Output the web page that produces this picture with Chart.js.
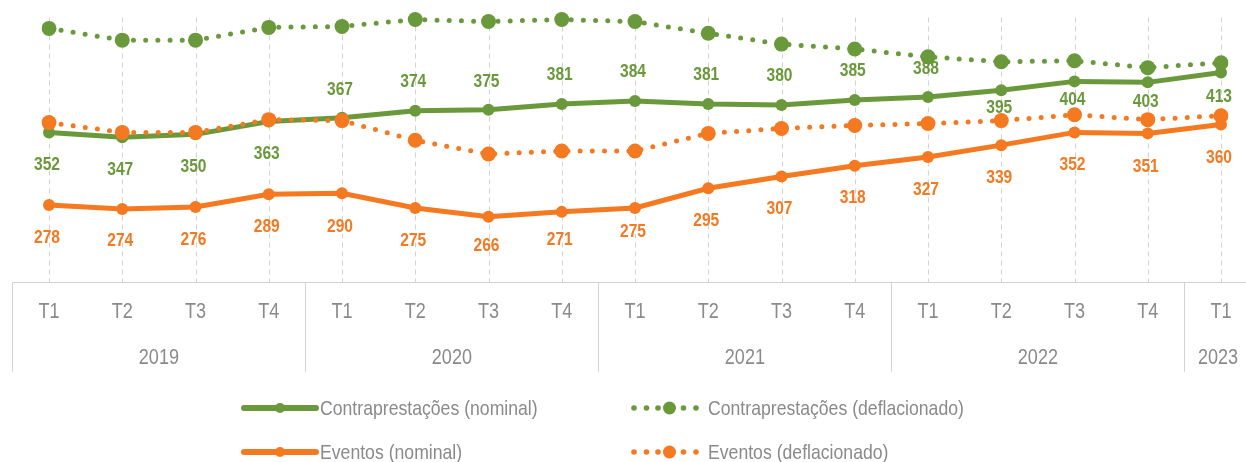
<!DOCTYPE html>
<html>
<head>
<meta charset="utf-8">
<script src="https://cdn.jsdelivr.net/npm/chart.js@4/dist/chart.umd.min.js"></script>
<style>
  html, body { margin: 0; padding: 0; background: #fff; }
  #wrap { width: 1246px; height: 462px; position: relative; }
</style>
</head>
<body>
<div id="wrap"><canvas id="chart"></canvas></div>
<script>
// --- data ---
const quarters = ["T1", "T2", "T3", "T4", "T1", "T2", "T3", "T4", "T1", "T2", "T3", "T4", "T1", "T2", "T3", "T4", "T1"];
const years = ["2019", "2019", "2019", "2019", "2020", "2020", "2020", "2020", "2021", "2021", "2021", "2021", "2022", "2022", "2022", "2022", "2023"];

const contraNominal = [352, 347, 350, 363, 367, 374, 375, 381, 384, 381, 380, 385, 388, 395, 404, 403, 413];
const contraDeflac = [458, 446, 446, 459, 460, 467, 465, 467, 465, 453, 442, 437, 429, 424, 425, 418, 423];
const eventosNominal = [278, 274, 276, 289, 290, 275, 266, 271, 275, 295, 307, 318, 327, 339, 352, 351, 360];
const eventosDeflac = [362, 352, 352, 365, 364, 344, 330, 333, 333, 351, 356, 359, 361, 364, 370, 365, 369];

const seriesNames = ["Contraprestações (nominal)", "Contraprestações (deflacionado)", "Eventos (nominal)", "Eventos (deflacionado)"];

// --- style ---
const GREEN = "rgb(106,153,59)";
const ORANGE = "rgb(244,121,32)";
const GREY_TXT = "#8a8a8a";
const GREY_LINE = "#d2d2d2";
const FONT = '"Liberation Sans", Arial, sans-serif';
const SQUEEZE = 0.82;   // no narrow face installed: squeeze Liberation Sans instead

// vertical offset of each value label from its point (negative = above)
const contraLabelDy = [32, 32, 32, 32, -28, -29, -28, -29, -29, -29, -29, -29, -28, 18, 18, 19, 24];
const eventosLabelDy = [33, 32, 33, 33, 34, 33, 29, 28, 24, 32, 32, 32, 33, 33, 32, 33, 33];

const solid = (label, data, color) => ({
  label, data,
  borderColor: color, backgroundColor: color,
  borderWidth: 5, pointRadius: 6, pointBorderWidth: 0,
  pointBackgroundColor: color, tension: 0, fill: false,
});
const dotted = (label, data, color) => ({
  label, data,
  borderColor: color, backgroundColor: color,
  borderWidth: 5, borderDash: [0, 12.2], borderCapStyle: "round",
  pointRadius: 7.5, pointBorderWidth: 0,
  pointBackgroundColor: color, tension: 0, fill: false,
});

// index 0 is drawn on top
const datasets = [
  dotted(seriesNames[3], eventosDeflac, ORANGE),
  solid(seriesNames[2], eventosNominal, ORANGE),
  dotted(seriesNames[1], contraDeflac, GREEN),
  solid(seriesNames[0], contraNominal, GREEN),
];

// text drawn horizontally condensed
function narrowText(ctx, text, x, y, sx) {
  ctx.save();
  ctx.translate(x, y);
  ctx.scale(sx || SQUEEZE, 1);
  ctx.fillText(text, 0, 0);
  ctx.restore();
}

// dashed vertical grid lines behind the lines
const gridPlugin = {
  id: "grid",
  beforeDatasetsDraw(chart) {
    const { ctx, chartArea, scales } = chart;
    ctx.save();
    ctx.strokeStyle = GREY_LINE;
    ctx.lineWidth = 1;
    ctx.setLineDash([5, 4]);
    quarters.forEach((q, i) => {
      const x = Math.round(scales.x.getPixelForValue(i)) + 0.5;
      ctx.beginPath();
      ctx.moveTo(x, chartArea.top + 10);
      ctx.lineTo(x, chartArea.bottom);
      ctx.stroke();
    });
    ctx.restore();
  },
};

// value labels, grouped x axis box and legend
const decoPlugin = {
  id: "deco",
  afterDatasetsDraw(chart) {
    const { ctx, scales } = chart;
    ctx.save();
    ctx.font = "bold 19px " + FONT;
    ctx.textAlign = "center";
    ctx.textBaseline = "middle";
    const drawLabels = (values, dys, color) => {
      ctx.fillStyle = color;
      values.forEach((v, i) => {
        const x = scales.x.getPixelForValue(i) - 2;
        const y = scales.y.getPixelForValue(v) + dys[i];
        narrowText(ctx, String(v), x, y);
      });
    };
    drawLabels(contraNominal, contraLabelDy, GREEN);
    drawLabels(eventosNominal, eventosLabelDy, ORANGE);
    ctx.restore();
  },
  afterDraw(chart) {
    const { ctx, chartArea, scales } = chart;
    const top = chartArea.bottom - 0.5;
    const bottom = 372;
    const left = 12.5;
    ctx.save();
    ctx.strokeStyle = GREY_LINE;
    ctx.lineWidth = 1;
    ctx.beginPath();
    ctx.moveTo(left, bottom);
    ctx.lineTo(left, top);
    ctx.lineTo(chart.width, top);
    ctx.stroke();

    ctx.fillStyle = GREY_TXT;
    ctx.font = "22px " + FONT;
    ctx.textAlign = "center";
    ctx.textBaseline = "middle";
    quarters.forEach((q, i) => narrowText(ctx, q, scales.x.getPixelForValue(i), 312));

    // year groups
    const groups = [];
    years.forEach((y, i) => {
      const g = groups[groups.length - 1];
      if (g && g.year === y) g.last = i;
      else groups.push({ year: y, first: i, last: i });
    });
    groups.forEach((g, k) => {
      const x0 = scales.x.getPixelForValue(g.first);
      const x1 = scales.x.getPixelForValue(g.last);
      narrowText(ctx, g.year, (x0 + x1) / 2 - (g.first === g.last ? 3 : 0), 358);
      if (k > 0) {
        const sep = Math.round((x0 + scales.x.getPixelForValue(g.first - 1)) / 2) + 0.5;
        ctx.beginPath();
        ctx.moveTo(sep, top);
        ctx.lineTo(sep, bottom);
        ctx.stroke();
      }
    });

    // legend
    const rows = [408, 452];
    ctx.font = "21px " + FONT;
    ctx.textAlign = "left";
    const solidKey = (x, y, color, text) => {
      ctx.strokeStyle = color;
      ctx.fillStyle = color;
      ctx.lineWidth = 6;
      ctx.lineCap = "round";
      ctx.beginPath();
      ctx.moveTo(x, y);
      ctx.lineTo(x + 72, y);
      ctx.stroke();
      ctx.beginPath();
      ctx.arc(x + 36, y, 5, 0, Math.PI * 2);
      ctx.fill();
      ctx.fillStyle = GREY_TXT;
      narrowText(ctx, text, x + 76, y + 1, 0.84);
    };
    const dottedKey = (x, y, color, text) => {
      ctx.fillStyle = color;
      [0, 12.5, 24, 49.5, 62].forEach((dx) => {
        ctx.beginPath();
        ctx.arc(x + dx, y, 2.8, 0, Math.PI * 2);
        ctx.fill();
      });
      ctx.beginPath();
      ctx.arc(x + 35.5, y, 6.5, 0, Math.PI * 2);
      ctx.fill();
      ctx.fillStyle = GREY_TXT;
      narrowText(ctx, text, x + 74, y + 1, 0.84);
    };
    solidKey(244, rows[0], GREEN, seriesNames[0]);
    dottedKey(634, rows[0], GREEN, seriesNames[1]);
    solidKey(244, rows[1], ORANGE, seriesNames[2]);
    dottedKey(634, rows[1], ORANGE, seriesNames[3]);
    ctx.restore();
  },
};

new Chart(document.getElementById("chart").getContext("2d"), {
  type: "line",
  data: { labels: quarters.map((q, i) => q + " " + years[i]), datasets },
  options: {
    responsive: true,
    maintainAspectRatio: false,
    animation: false,
    events: [],
    layout: { padding: { left: 49, right: 25, top: 5, bottom: 179 } },
    plugins: { legend: { display: false }, tooltip: { enabled: false } },
    scales: {
      x: { display: false, offset: false },
      y: { display: false, min: 198.5, max: 479.3 },
    },
    elements: { line: { clip: false } },
  },
  plugins: [gridPlugin, decoPlugin],
});
</script>
</body>
</html>
